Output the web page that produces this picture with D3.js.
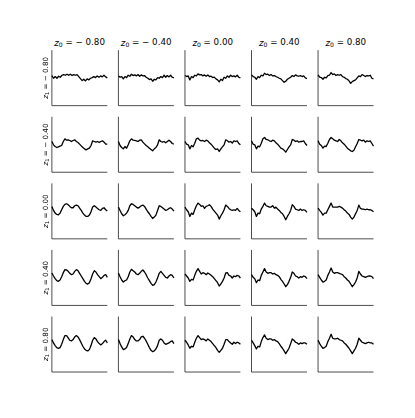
<!DOCTYPE html>
<html>
<head>
<meta charset="utf-8">
<script src="https://cdn.jsdelivr.net/npm/d3@7"></script>
<style>
  body { margin: 0; background: #fff; }
  text { font-family: "DejaVu Sans", sans-serif; fill: #000; }
</style>
</head>
<body>
<div id="chart"></div>
<script>
// latent grid values
let z0Values = [-0.80, -0.40, 0.00, 0.40, 0.80];
let z1Values = [-0.80, -0.40, 0.00, 0.40, 0.80];

// decoded signals, one row per z1, one array per z0
let rowZ1m080 = [
  [3,-5,0,-5,1,-2,4,6,4,7,4,7,3,6,4,6,0,-6,-12,-8,-13,-7,-10,-5,-3,0,-3,2,-2,2,-1,4,-1,-4],
  [2,-2,0,-7,0,-3,4,1,7,3,5,2,6,1,5,2,3,-2,-5,-9,-7,-14,-8,-10,-3,-5,0,-3,4,-2,3,-1,4,-2,-4],
  [3,0,2,-10,0,-3,4,2,8,5,6,2,5,1,5,0,1,-3,-2,-7,-10,-16,-8,-12,-2,-5,2,-2,4,0,2,-1,4,-2,-4],
  [5,0,-2,-8,0,-3,4,2,10,6,7,3,6,2,3,0,-2,-5,-7,-12,-17,-14,-8,-5,-2,3,0,5,2,1,3,0,2,-4,-6],
  [5,-2,-3,-8,-2,-4,3,4,12,6,8,3,6,4,6,0,-2,-6,-8,-13,-20,-15,-12,-10,-4,2,0,6,3,0,3,2,4,-5,-7]
];
let rowZ1m040 = [
  [5,-5,-10,-13,-11,-9,-7,5,13,9,10,8,5,8,10,5,2,-3,-8,-13,-17,-20,-17,-15,-7,7,5,3,5,2,5,7,3,-3,-3],
  [5,-7,-13,-17,-10,-15,-5,7,13,9,8,7,5,9,10,3,-2,-7,-11,-15,-19,-23,-17,-13,-5,10,5,3,5,1,5,9,5,-1,-3],
  [5,-3,-5,-17,-7,-11,0,13,15,9,7,8,5,9,7,1,-3,-9,-15,-19,-17,-25,-17,-11,-5,10,7,3,5,0,7,5,7,-1,-5],
  [7,-3,-5,-17,-9,-11,0,13,17,11,10,7,5,9,7,1,-3,-9,-15,-17,-21,-27,-19,-11,-5,11,9,5,7,3,5,5,7,-1,-7],
  [7,-3,-7,-15,-9,-10,0,11,17,13,9,7,5,11,7,1,-3,-9,-15,-19,-23,-25,-21,-11,-1,11,9,7,9,3,7,5,7,-1,-9]
];
let rowZ1p000 = [
  [10,-2,-10,-14,-15,-10,0,10,16,18,15,10,6,6,12,14,12,5,-2,-10,-16,-20,-20,-16,-6,8,12,8,4,0,-2,4,6,0,-4],
  [8,-2,-12,-18,-15,-10,-2,12,18,16,12,8,5,8,12,14,10,2,-6,-12,-20,-26,-22,-16,-2,12,10,6,2,-2,0,4,6,2,-4],
  [8,0,-6,-20,-10,-14,0,12,20,16,10,12,4,10,12,15,10,2,-4,-10,-16,-28,-18,-10,0,14,10,4,0,-2,0,-2,4,-2,-6],
  [5,0,-6,-20,-10,-12,2,10,20,12,10,8,8,12,5,8,2,-2,-8,-12,-20,-30,-20,-12,-2,15,10,2,0,-2,2,-2,0,-2,-8],
  [5,-2,-8,-16,-10,-10,0,10,20,8,8,8,8,10,8,5,0,-4,-10,-14,-22,-28,-22,-12,-2,14,4,2,2,0,2,0,0,-2,-6]
];
let rowZ1p040 = [
  [10,1,-7,-13,-15,-11,-1,11,20,19,15,9,5,7,15,20,17,9,1,-7,-15,-21,-23,-19,-7,7,17,13,5,-1,-7,-3,3,5,-3],
  [10,-1,-11,-17,-13,-11,-1,13,21,17,13,7,5,9,15,19,13,5,-5,-13,-21,-27,-25,-17,-5,9,15,9,3,-3,-5,1,5,3,-5],
  [7,1,-5,-15,-9,-11,3,15,23,15,7,11,9,5,10,7,3,-1,-7,-13,-19,-29,-23,-15,-5,10,11,3,1,-5,1,-1,3,1,-5],
  [5,-3,-7,-19,-11,-13,3,13,23,13,9,11,11,7,9,5,3,-1,-9,-15,-23,-31,-25,-15,-3,13,9,1,-1,-5,-1,-3,1,-1,-7],
  [5,-3,-11,-17,-15,-11,3,13,25,13,9,11,11,9,7,5,-1,-5,-11,-15,-23,-31,-25,-17,-5,15,7,1,-1,-3,-1,1,1,-1,-7]
];
let rowZ1p080 = [
  [10,0,-8,-14,-16,-14,-4,10,22,22,15,8,6,10,18,22,18,10,0,-10,-18,-22,-24,-20,-8,8,16,12,4,-2,-6,-2,4,8,0],
  [10,-2,-12,-20,-18,-14,-2,12,22,18,10,6,6,10,18,20,14,6,-4,-14,-22,-26,-24,-18,-8,8,12,8,0,-4,-2,0,4,6,-2],
  [8,2,-6,-16,-10,-12,2,14,22,16,10,12,10,6,12,8,4,-2,-8,-14,-22,-28,-22,-16,-4,10,10,4,0,-4,2,-2,2,0,-4],
  [8,0,-8,-18,-10,-12,4,16,24,14,10,12,12,8,10,6,4,-2,-10,-16,-24,-32,-24,-16,-2,12,8,2,0,-4,0,-2,0,0,-4],
  [8,-2,-10,-16,-14,-10,4,14,26,14,12,12,14,10,8,6,0,-4,-10,-16,-24,-32,-24,-16,-4,14,8,2,0,-2,0,2,0,0,-4]
];
let rows = [rowZ1m080, rowZ1m040, rowZ1p000, rowZ1p040, rowZ1p080];
let yLimits = [-87, 79];

let width = 415;
let height = 418;
let margin = {top: 0.12 * height, right: 0.1 * width, bottom: 0.11 * height, left: 0.125 * width};
let nCols = z0Values.length;
let nRows = z1Values.length;
let gap = 0.2;
let cellW = (width - margin.left - margin.right) / (nCols + gap * (nCols - 1));
let cellH = (height - margin.top - margin.bottom) / (nRows + gap * (nRows - 1));

let svg = d3.select('#chart')
  .append('svg')
  .attr('width', width)
  .attr('height', height);

// grayscale filter so rotated labels don't get colour fringes
svg.append('defs')
  .append('filter')
  .attr('id', 'gray')
  .append('feColorMatrix')
  .attr('type', 'saturate')
  .attr('values', 0);

let fmt = d3.format('.2f');

// matplotlib-style mathtext label: z_k = value
let mathLabel = (sel, k, v) => {
  sel.style('white-space', 'pre');
  sel.append('tspan').attr('font-style', 'italic').text('z');
  sel.append('tspan').attr('font-size', '70%').attr('dy', '0.25em').text(k);
  let num = v < 0 ? '\u2212 ' + fmt(-v) : fmt(v);
  sel.append('tspan').attr('dy', '-0.25em').text(' = ' + num);
};

rows.forEach((row, r) => {
  row.forEach((series, c) => {
    let x0 = margin.left + c * cellW * (1 + gap);
    let y0 = margin.top + r * cellH * (1 + gap);

    let xScale = d3.scaleLinear()
      .domain([0, series.length - 1])
      .range([0, cellW]);
    let yScale = d3.scaleLinear()
      .domain(yLimits)
      .range([cellH, 0]);

    let g = svg.append('g')
      .attr('transform', 'translate(' + x0 + ',' + y0 + ')');

    g.append('path')
      .datum(series)
      .attr('fill', 'none')
      .attr('stroke', '#000')
      .attr('stroke-width', 1.3)
      .attr('stroke-linejoin', 'round')
      .attr('d', d3.line().x((d, i) => xScale(i)).y(d => yScale(d)));

    // only left and bottom spines
    g.append('line')
      .attr('x1', 0).attr('x2', 0)
      .attr('y1', 0).attr('y2', cellH)
      .attr('stroke', '#000')
      .attr('stroke-width', 0.7);
    g.append('line')
      .attr('x1', 0).attr('x2', cellW)
      .attr('y1', cellH).attr('y2', cellH)
      .attr('stroke', '#000')
      .attr('stroke-width', 0.7);

    if (r === 0) {
      g.append('text')
        .attr('x', cellW / 2)
        .attr('y', -4.5)
        .attr('text-anchor', 'middle')
        .attr('font-size', 8.7)
        .call(mathLabel, '0', z0Values[c]);
    }
    if (c === 0) {
      g.append('g')
        .attr('filter', 'url(#gray)')
        .append('text')
        .attr('text-anchor', 'middle')
        .attr('font-size', 7.2)
        .attr('transform', 'translate(-3.8,' + (cellH / 2) + ') rotate(-90)')
        .call(mathLabel, '1', z1Values[r]);
    }
  });
});
</script>
</body>
</html>
